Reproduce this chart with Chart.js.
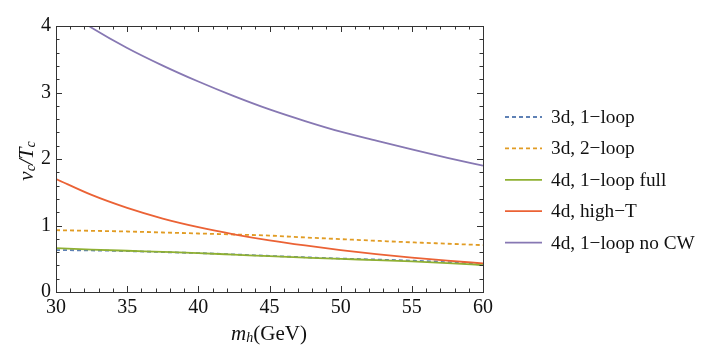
<!DOCTYPE html>
<html><head><meta charset="utf-8">
<script src="https://cdn.jsdelivr.net/npm/chart.js@4"></script>
<style>html,body{margin:0;padding:0;background:#fff}#wrap{width:706px;height:351px}</style>
</head><body><div id="wrap"><canvas id="c" width="706" height="351"></canvas></div>
<script>
// ---- data ----
const mh        = [30, 32.5, 35, 37.5, 40, 42.5, 45, 47.5, 50, 52.5, 55, 57.5, 60];
const loop1_3d  = [0.63, 0.625, 0.615, 0.60, 0.585, 0.565, 0.543, 0.522, 0.503, 0.488, 0.472, 0.448, 0.41];
const loop2_3d  = [0.93, 0.92, 0.91, 0.895, 0.88, 0.865, 0.848, 0.82, 0.795, 0.77, 0.747, 0.726, 0.705];
const full_4d   = [0.66, 0.638, 0.62, 0.603, 0.585, 0.562, 0.538, 0.517, 0.497, 0.48, 0.46, 0.435, 0.405];
const highT_4d  = [1.70, 1.46, 1.265, 1.105, 0.976, 0.868, 0.777, 0.70, 0.631, 0.571, 0.518, 0.472, 0.43];
const noCW_4d   = [4.32, 3.975, 3.67, 3.405, 3.165, 2.945, 2.745, 2.57, 2.41, 2.275, 2.143, 2.018, 1.90];
const seriesNames = ['3d, 1\u2212loop', '3d, 2\u2212loop', '4d, 1\u2212loop full', '4d, high\u2212T', '4d, 1\u2212loop no CW'];
const xTicks = [30, 35, 40, 45, 50, 55, 60];
const yTicks = [0, 1, 2, 3, 4];

const SERIF = '"Liberation Serif", "DejaVu Serif", serif';
const colors = ['#5E81B5', '#E19C24', '#8FB032', '#EB6235', '#8778B3'];
const dashes = [[4, 3], [4, 3], [], [], []];
const allSeries = [loop1_3d, loop2_3d, full_4d, highT_4d, noCW_4d];

const datasets = allSeries.map((arr, i) => ({
  label: seriesNames[i],
  data: mh.map((x, j) => ({x: x, y: arr[j]})),
  borderColor: colors[i],
  borderWidth: 1.8,
  borderDash: dashes[i],
  pointRadius: 0,
  fill: false,
  cubicInterpolationMode: 'monotone'
}));
const drawOrder = [0, 1, 3, 4, 2];
datasets.forEach((d, i) => d.order = -drawOrder.indexOf(i));

function drawParts(ctx, parts, cx, cy) {
  let w = 0;
  parts.forEach(p => { ctx.font = p.f; p.w = ctx.measureText(p.t).width; w += p.w; });
  let x = cx - w / 2;
  ctx.textBaseline = 'middle';
  ctx.textAlign = 'left';
  parts.forEach(p => { ctx.font = p.f; ctx.fillText(p.t, x, cy + p.dy); x += p.w; });
}

const decor = {
  id: 'decor',
  afterDraw(chart) {
    const ctx = chart.ctx, a = chart.chartArea;
    const xs = chart.scales.x, ys = chart.scales.y;
    ctx.save();
    ctx.strokeStyle = '#333';
    ctx.lineWidth = 1;
    ctx.setLineDash([]);
    ctx.strokeRect(Math.round(a.left) + 0.5, Math.round(a.top) + 0.5, Math.round(a.right - a.left), Math.round(a.bottom - a.top));
    for (let v = 30; v <= 60; v += 1) {
      const px = Math.round(xs.getPixelForValue(v)) + 0.5;
      const L = (v % 5 === 0) ? 6 : 3.5;
      ctx.beginPath();
      ctx.moveTo(px, a.bottom); ctx.lineTo(px, a.bottom - L);
      ctx.moveTo(px, a.top); ctx.lineTo(px, a.top + L);
      ctx.stroke();
    }
    for (let k = 0; k <= 20; k++) {
      const v = k * 0.2;
      const py = Math.round(ys.getPixelForValue(v)) + 0.5;
      const L = (k % 5 === 0) ? 6 : 3.5;
      ctx.beginPath();
      ctx.moveTo(a.left, py); ctx.lineTo(a.left + L, py);
      ctx.moveTo(a.right, py); ctx.lineTo(a.right - L, py);
      ctx.stroke();
    }
    // legend
    ctx.textBaseline = 'middle';
    ctx.textAlign = 'left';
    chart.data.datasets.forEach((d, i) => {
      const y = 117 + i * 31.4;
      ctx.strokeStyle = d.borderColor;
      ctx.lineWidth = 1.8;
      ctx.setLineDash(d.borderDash);
      ctx.beginPath(); ctx.moveTo(505, y); ctx.lineTo(542, y); ctx.stroke();
      ctx.setLineDash([]);
      ctx.fillStyle = '#111';
      ctx.font = '19.3px ' + SERIF;
      ctx.fillText(d.label, 551, y + 1);
    });
    // x axis title
    ctx.fillStyle = '#111';
    drawParts(ctx, [
      {t: 'm', f: 'italic 21px ' + SERIF, dy: 0},
      {t: 'h', f: 'italic 14px ' + SERIF, dy: 4},
      {t: '(GeV)', f: '21px ' + SERIF, dy: 0}
    ], 269, 334);
    // y axis title
    ctx.save();
    ctx.translate(27, 161);
    ctx.rotate(-Math.PI / 2);
    drawParts(ctx, [
      {t: 'v', f: 'italic 21px ' + SERIF, dy: 0},
      {t: 'c', f: 'italic 14px ' + SERIF, dy: 4},
      {t: '/', f: 'italic 21px ' + SERIF, dy: 0},
      {t: 'T', f: 'italic 21px ' + SERIF, dy: 0},
      {t: 'c', f: 'italic 14px ' + SERIF, dy: 4}
    ], 0, 0);
    ctx.restore();
    ctx.restore();
  }
};

new Chart(document.getElementById('c'), {
  type: 'line',
  data: {datasets: datasets},
  options: {
    responsive: false,
    animation: false,
    devicePixelRatio: 1,
    layout: {padding: {left: 0, top: 26, right: 223, bottom: 0}},
    plugins: {legend: {display: false}, tooltip: {enabled: false}},
    scales: {
      x: {
        type: 'linear', min: 30, max: 60,
        grid: {display: false, drawTicks: false}, border: {display: false},
        ticks: {stepSize: 5, color: '#111', padding: 4, maxRotation: 0, font: {family: SERIF, size: 20}},
        afterBuildTicks: s => { s.ticks = xTicks.map(v => ({value: v})); },
        afterFit: s => { s.height = 59; }
      },
      y: {
        type: 'linear', min: 0, max: 4,
        grid: {display: false, drawTicks: false}, border: {display: false},
        ticks: {stepSize: 1, color: '#111', padding: 5, font: {family: SERIF, size: 20}},
        afterBuildTicks: s => { s.ticks = yTicks.map(v => ({value: v})); },
        afterFit: s => { s.width = 56; }
      }
    }
  },
  plugins: [decor]
});
</script>
</body></html>
